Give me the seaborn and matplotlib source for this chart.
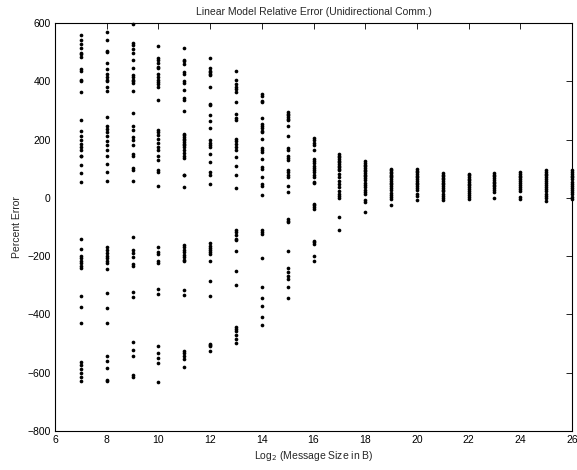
import matplotlib
matplotlib.use("Agg")
import matplotlib.pyplot as plt
import seaborn as sns
import pandas as pd

# Percent error values read per message size (log2 bytes)
err_7 = [558, 540, 529, 515, 497, 492, 483, 443, 435, 406, 401, 363, 266, 231, 211, 197, 185, 174, 163, 145, 143, 114, 86, 56,
         -141, -175, -198, -206, -215, -225, -233, -240, -336, -376, -430, -562, -574, -588, -601, -616, -630]
err_8 = [569, 543, 504, 500, 464, 443, 424, 414, 403, 401, 382, 365, 279, 245, 237, 225, 211, 194, 180, 163, 143, 117, 90, 59,
         -170, -179, -190, -198, -206, -215, -225, -244, -328, -378, -428, -542, -561, -584, -624, -630]
err_9 = [595, 531, 523, 512, 497, 472, 447, 420, 414, 406, 401, 394, 365, 292, 248, 234, 208, 197, 180, 149, 143, 103, 96, 57,
         -135, -179, -190, -204, -227, -235, -324, -339, -496, -521, -542, -607, -613]
err_10 = [521, 481, 472, 462, 449, 445, 424, 414, 405, 397, 389, 380, 337, 234, 225, 217, 203, 188, 174, 163, 143, 131, 97, 88, 39,
          -170, -187, -192, -215, -223, -313, -330, -510, -533, -548, -565, -631]
err_11 = [515, 474, 469, 460, 432, 424, 401, 394, 369, 344, 337, 297, 220, 214, 208, 203, 197, 191, 185, 180, 174, 163, 153, 143, 137, 80, 77, 36,
          -161, -170, -179, -187, -195, -204, -213, -218, -316, -332, -525, -533, -542, -553, -579]
err_12 = [481, 447, 437, 432, 426, 420, 380, 323, 317, 283, 263, 241, 197, 188, 183, 174, 149, 122, 88, 80, 46,
          -156, -164, -172, -179, -187, -192, -218, -284, -337, -500, -504, -510, -525]
err_13 = [434, 403, 389, 382, 374, 363, 328, 288, 275, 266, 203, 194, 185, 176, 165, 140, 111, 80, 34,
          -112, -118, -126, -141, -144, -184, -250, -298, -442, -450, -458, -470, -484, -498]
err_14 = [355, 348, 332, 328, 275, 254, 248, 240, 231, 225, 203, 172, 165, 157, 134, 105, 100, 71, 46, 42, 11,
          -112, -118, -124, -205, -305, -342, -370, -408, -435]
err_15 = [294, 288, 283, 277, 271, 266, 248, 211, 172, 165, 142, 137, 131, 96, 88, 80, 71, 42, 19,
          -72, -78, -84, -184, -240, -256, -267, -278, -307, -342]
err_16 = [206, 197, 188, 180, 165, 134, 126, 119, 111, 103, 96, 88, 80, 71, 54, 50,
          -21, -26, -32, -38, -147, -152, -157, -201, -215]
err_17 = [151, 145, 140, 134, 128, 122, 117, 111, 105, 100, 94, 82, 71, 59, 48, 36, 25, 14, 8, -2, -64, -110]
err_18 = [126, 120, 114, 108, 103, 97, 92, 86, 80, 74, 68, 60, 52, 44, 36, 28, 20, 14, -7, -15, -49]
err_19 = [100, 95, 90, 85, 80, 75, 70, 64, 58, 52, 46, 40, 33, 26, 18, 10, 3, -3, -23]
err_20 = [99, 93, 88, 82, 76, 70, 64, 58, 52, 46, 40, 34, 26, 14, 5, -7]
err_21 = [85, 80, 74, 69, 63, 58, 52, 46, 40, 34, 28, 22, 14, 6, -2, -7]
err_22 = [82, 77, 72, 66, 60, 55, 49, 43, 37, 31, 25, 18, 10, 2, -3]
err_23 = [84, 79, 74, 68, 62, 56, 50, 45, 39, 33, 27, 20, 0]
err_24 = [88, 82, 76, 70, 64, 57, 50, 44, 38, 30, 22, 3, -4]
err_25 = [94, 88, 83, 77, 70, 64, 57, 50, 44, 37, 30, 22, 14, 6, 0, -10]
err_26 = [94, 88, 82, 76, 70, 63, 56, 49, 42, 35, 28, 20, 12, 4, -4]

sizes = list(range(7, 27))
errors = [err_7, err_8, err_9, err_10, err_11, err_12, err_13, err_14, err_15, err_16,
          err_17, err_18, err_19, err_20, err_21, err_22, err_23, err_24, err_25, err_26]

x_ticks = [6, 8, 10, 12, 14, 16, 18, 20, 22, 24, 26]
y_ticks = [-800, -600, -400, -200, 0, 200, 400, 600]

rows = [(s, v) for s, vals in zip(sizes, errors) for v in vals]
df = pd.DataFrame(rows, columns=["log2size", "err"])

sns.set_style("white")
plt.rcParams['font.family'] = ['Liberation Sans', 'DejaVu Sans']

fig = plt.figure(figsize=(5.77, 4.70), dpi=100)
ax = fig.add_axes([55/577, 39/470, 517/577, 408/470])

sns.scatterplot(data=df, x="log2size", y="err", ax=ax, color="black",
                s=7, marker="o", linewidth=0, clip_on=False)

ax.set_xlim(6, 26)
ax.set_ylim(-800, 600)
ax.set_xticks(x_ticks)
ax.set_yticks(y_ticks)
ax.tick_params(direction="in", top=True, right=True, length=4, width=0.6,
               labelsize=7.5, colors="black", pad=3)
for sp in ax.spines.values():
    sp.set_visible(True)
    sp.set_color("black")
    sp.set_linewidth(0.8)

ax.set_title("Linear Model Relative Error (Unidirectional Comm.)", fontsize=7.5, pad=6)
ax.set_xlabel("Log$_2$ (Message Size in B)", fontsize=7.5, labelpad=3)
ax.set_ylabel("Percent Error", fontsize=7.5, labelpad=4)

fig.savefig("out.png", dpi=100)
